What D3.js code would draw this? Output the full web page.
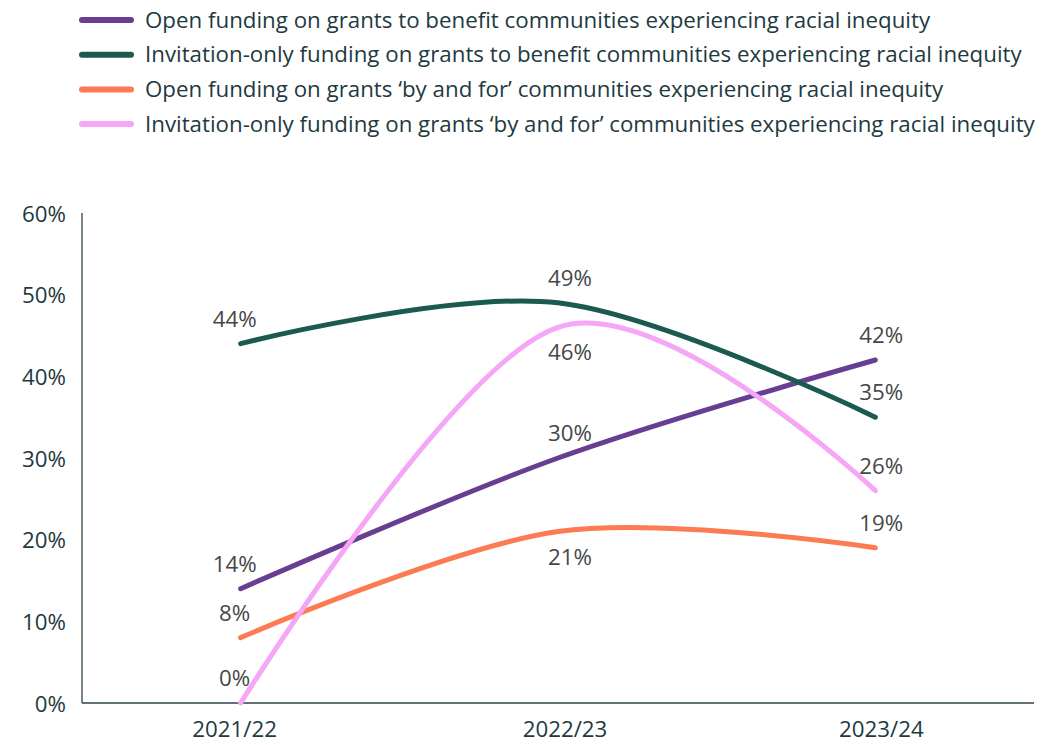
<!DOCTYPE html>
<html>
<head>
<meta charset="utf-8">
<script src="https://cdn.jsdelivr.net/npm/d3@7"></script>
<style>
  html, body { margin: 0; padding: 0; background: #ffffff; }
  svg { display: block; }
  text { font-family: "Open Sans", "Lato", sans-serif; }
</style>
</head>
<body>
<svg id="chart" width="1043" height="745"></svg>
<script>
// Funding years
const years = ["2021/22", "2022/23", "2023/24"];

// Share of funding (%) per year
const openBenefit = [14, 30, 42];
const inviteBenefit = [44, 49, 35];
const openByAndFor = [8, 21, 19];
const inviteByAndFor = [0, 46, 26];

const seriesNames = [
  "Open funding on grants to benefit communities experiencing racial inequity",
  "Invitation-only funding on grants to benefit communities experiencing racial inequity",
  "Open funding on grants \u2018by and for\u2019 communities experiencing racial inequity",
  "Invitation-only funding on grants \u2018by and for\u2019 communities experiencing racial inequity"
];

const yTicks = [0, 10, 20, 30, 40, 50, 60];

// Which side of the point each value label sits on (1 = above, -1 = below)
const labelSide = [
  [1, 1, 1],
  [1, 1, 1],
  [1, -1, 1],
  [1, -1, 1]
];

const colors = ["#673e92", "#1b5a51", "#fd7b52", "#f5a6f6"];
const textColor = "#1e3a40";
const labelColor = "#474747";
const fontSize = "22.3px";

const seriesValues = [openBenefit, inviteBenefit, openByAndFor, inviteByAndFor];
const series = seriesNames.map((name, i) => ({
  name,
  color: colors[i],
  values: seriesValues[i].map((v, j) => ({ year: years[j], value: v, side: labelSide[i][j] }))
}));

const svg = d3.select("#chart");

const plot = { left: 82, right: 1034, top: 213, bottom: 703 };

const x = d3.scaleBand().domain(years).range([plot.left, plot.right]);
const xc = d => x(d) + x.bandwidth() / 2;
const y = d3.scaleLinear().domain([0, 60]).range([plot.bottom, plot.top]);

// small horizontal nudges for the text under/around each year column
const textShift = { "2021/22": -6, "2022/23": 7, "2023/24": 6 };

// Axes
const yAxis = d3.axisLeft(y).tickValues(yTicks).tickSize(0).tickPadding(16)
  .tickFormat(d => d + "%");
const gy = svg.append("g").attr("transform", `translate(${plot.left},0)`).call(yAxis);
gy.select(".domain").remove();
gy.selectAll("text")
  .attr("fill", textColor)
  .style("font-size", fontSize)
  .attr("dy", "0.36em");

const xAxis = d3.axisBottom(x).tickSize(0).tickPadding(18);
const gx = svg.append("g").attr("transform", `translate(0,${plot.bottom})`).call(xAxis);
gx.select(".domain").remove();
gx.selectAll("text")
  .attr("fill", textColor)
  .style("font-size", fontSize)
  .attr("dx", d => textShift[d])
  .attr("dy", "0.71em");

svg.append("line")
  .attr("x1", plot.left).attr("x2", plot.left)
  .attr("y1", plot.top).attr("y2", plot.bottom)
  .attr("stroke", "#2e434a").attr("stroke-width", 1.3);
svg.append("line")
  .attr("x1", plot.left).attr("x2", plot.right)
  .attr("y1", plot.bottom).attr("y2", plot.bottom)
  .attr("stroke", "#2e434a").attr("stroke-width", 1.6);

// Smoothed lines
const line = d3.line()
  .x(d => xc(d.year))
  .y(d => y(d.value))
  .curve(d3.curveCardinal.tension(0));

svg.append("g").selectAll("path")
  .data(series)
  .join("path")
  .attr("d", d => line(d.values))
  .attr("fill", "none")
  .attr("stroke", d => d.color)
  .attr("stroke-width", 5)
  .attr("stroke-linecap", "round");

// Value labels
const labels = svg.append("g");
series.forEach(s => {
  labels.selectAll(null)
    .data(s.values)
    .join("text")
    .attr("x", d => xc(d.year) + textShift[d.year] + (d.year === "2022/23" ? 5 : 0))
    .attr("y", d => y(d.value) - d.side * 25)
    .attr("dy", "0.36em")
    .attr("text-anchor", "middle")
    .attr("fill", labelColor)
    .style("font-size", fontSize)
    .text(d => d.value + "%");
});

// Legend
const legend = svg.append("g");
const rowY = [20, 54.7, 89.4, 124];
series.forEach((s, i) => {
  const g = legend.append("g").attr("transform", `translate(0,${rowY[i]})`);
  g.append("line")
    .attr("x1", 82).attr("x2", 131)
    .attr("stroke", s.color).attr("stroke-width", 6)
    .attr("stroke-linecap", "round");
  g.append("text")
    .attr("x", 145).attr("y", 0).attr("dy", "0.34em")
    .attr("fill", textColor)
    .style("font-size", fontSize)
    .text(s.name);
});
</script>
</body>
</html>
